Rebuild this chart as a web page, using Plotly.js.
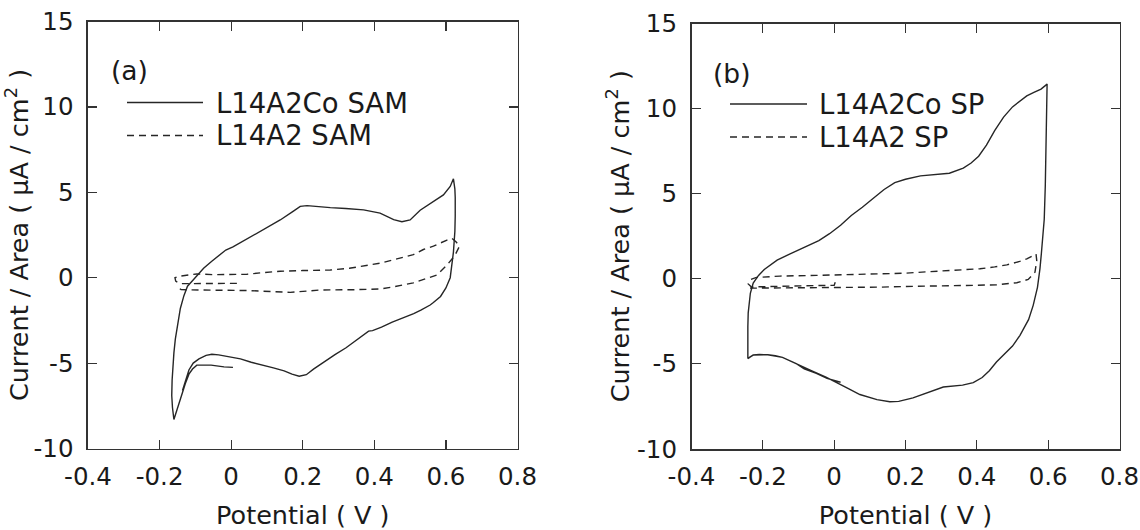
<!DOCTYPE html>
<html>
<head>
<meta charset="utf-8">
<script src="https://cdn.plot.ly/plotly-3.0.1.min.js"></script>
<style>html,body{margin:0;padding:0;background:#fff;}#chart{width:1140px;height:530px;}</style>
</head>
<body>
<div id="chart"></div>
<script>
// ---------- data ----------
const xTickVals = [-0.4, -0.2, 0, 0.2, 0.4, 0.6, 0.8];
const xTickText = ["-0.4", "-0.2", "0", "0.2", "0.4", "0.6", "0.8"];
const yTickVals = [-10, -5, 0, 5, 10, 15];
const yTickText = ["-10", "-5", "0", "5", "10", "15"];

const seriesNames = ["L14A2Co SAM", "L14A2 SAM", "L14A2Co SP", "L14A2 SP"];
const panelLabels = ["(a)", "(b)"];

// (a) L14A2Co SAM
const coSamV = [0.005,-0.02,-0.056,-0.08,-0.096,-0.108,-0.118,-0.128,-0.138,-0.148,-0.155,-0.16,
  -0.164,-0.166,-0.165,-0.163,-0.16,-0.156,-0.15,-0.142,-0.132,-0.122,-0.105,-0.09,-0.077,-0.055,-0.031,-0.015,0.005,
  0.034,0.09,0.137,0.174,0.193,0.212,0.24,0.277,0.32,0.37,0.416,0.454,0.477,0.5,0.528,0.565,0.593,0.612,0.621,
  0.625,0.626,0.626,0.625,0.621,0.617,0.612,0.6,0.585,0.565,0.556,0.53,0.51,0.48,0.45,0.42,0.395,0.384,0.37,0.35,
  0.321,0.29,0.26,0.23,0.21,0.19,0.17,0.148,0.118,0.087,0.056,0.026,-0.005,-0.035,-0.054,-0.07,-0.09,-0.106,-0.118,-0.128,-0.136];
const coSamI = [-5.25,-5.22,-5.12,-5.1,-5.12,-5.35,-5.65,-6.2,-6.9,-7.6,-8.0,-8.3,
  -7.6,-6.9,-6.0,-5.3,-4.4,-3.6,-2.8,-1.8,-1.05,-0.5,-0.1,0.25,0.55,0.95,1.33,1.62,1.8,
  2.15,2.85,3.38,3.9,4.18,4.22,4.15,4.1,4.05,3.97,3.78,3.4,3.28,3.38,3.95,4.45,4.85,5.34,5.79,
  5.2,4.7,3.6,2.7,1.5,0.7,0.0,-0.6,-1.1,-1.45,-1.6,-1.9,-2.1,-2.35,-2.6,-2.9,-3.1,-3.13,-3.35,-3.65,
  -4.1,-4.5,-4.9,-5.35,-5.68,-5.77,-5.65,-5.45,-5.28,-5.12,-4.95,-4.75,-4.62,-4.52,-4.48,-4.55,-4.75,-5.0,-5.4,-6.0,-6.6];

// (a) L14A2 SAM
const samV = [0.016,-0.05,-0.1,-0.142,-0.155,-0.157,-0.14,-0.096,-0.05,0.0,0.044,0.09,0.137,0.2,0.277,0.33,0.37,0.416,0.463,0.509,0.537,0.565,0.603,0.617,0.628,0.638,
  0.625,0.603,0.575,0.54,0.509,0.45,0.416,0.35,0.25,0.165,0.1,0.044,-0.05,-0.12,-0.14,-0.15];
const samI = [-0.33,-0.34,-0.35,-0.35,-0.2,0.0,0.1,0.22,0.18,0.17,0.2,0.3,0.38,0.42,0.45,0.55,0.68,0.85,1.1,1.35,1.65,1.85,2.2,2.3,2.1,1.85,
  1.3,0.74,0.16,-0.1,-0.3,-0.55,-0.66,-0.7,-0.72,-0.86,-0.78,-0.75,-0.73,-0.72,-0.7,-0.55];

// (b) L14A2Co SP
const coSpV = [0.018,-0.02,-0.05,-0.084,-0.105,-0.125,-0.145,-0.165,-0.186,-0.21,-0.227,-0.242,
  -0.243,-0.242,-0.241,-0.239,-0.235,-0.227,-0.212,-0.196,-0.181,-0.16,-0.125,-0.084,-0.043,-0.013,0.018,0.048,0.079,0.109,0.14,0.17,0.2,0.242,0.282,0.323,0.362,0.384,0.405,0.427,0.45,0.475,0.5,0.52,0.54,0.56,0.58,0.597,
  0.596,0.594,0.592,0.589,0.586,0.581,0.577,0.57,0.558,0.545,0.532,0.521,0.5,0.476,0.455,0.435,0.415,0.39,0.36,0.306,0.262,0.221,0.181,0.156,0.12,0.099,0.072,0.04,0.018,-0.023,-0.064,-0.105,-0.145,-0.186,-0.227,-0.242];
const coSpI = [-6.08,-5.85,-5.55,-5.29,-5.0,-4.8,-4.62,-4.52,-4.46,-4.45,-4.48,-4.68,
  -3.8,-2.8,-2.0,-1.5,-0.85,-0.25,0.2,0.55,0.78,1.1,1.45,1.85,2.25,2.65,3.15,3.72,4.2,4.72,5.25,5.65,5.85,6.05,6.13,6.2,6.5,6.8,7.2,7.85,8.7,9.5,10.1,10.45,10.75,10.95,11.15,11.44,
  10.0,8.0,5.5,3.5,2.5,1.5,0.6,-0.5,-1.56,-2.4,-2.9,-3.32,-3.95,-4.45,-4.89,-5.4,-5.8,-6.1,-6.25,-6.36,-6.67,-7.0,-7.2,-7.22,-7.1,-6.95,-6.8,-6.45,-6.2,-5.78,-5.4,-5.0,-4.62,-4.46,-4.48,-4.7];

// (b) L14A2 SP
const spV = [0.003,0.0,-0.05,-0.1,-0.15,-0.2,-0.232,-0.241,-0.236,-0.218,-0.152,-0.05,0.05,0.128,0.2,0.268,0.35,0.409,0.45,0.484,0.52,0.54,0.566,
  0.568,0.563,0.544,0.512,0.456,0.4,0.315,0.2,0.128,0.05,0.007,-0.08,-0.152,-0.236];
const spI = [-0.2,-0.38,-0.4,-0.42,-0.44,-0.46,-0.48,-0.3,-0.06,0.08,0.16,0.2,0.24,0.28,0.33,0.42,0.5,0.59,0.7,0.82,1.02,1.17,1.45,
  1.07,0.39,-0.04,-0.23,-0.35,-0.38,-0.4,-0.45,-0.49,-0.5,-0.49,-0.52,-0.55,-0.55];

// ---------- layout helpers ----------
const W = 1140, H = 530;
const px = x => x / W;
const py = y => 1 - y / H;
const FONT = "DejaVu Sans, Liberation Sans, Arial, sans-serif";
const INK = "#1a1a1a";
const LINE = "#262626";

function axisX(domain, anchor) {
  return {
    domain: domain, anchor: anchor, range: [-0.4, 0.8],
    tickmode: "array", tickvals: xTickVals, ticktext: xTickText,
    ticks: "inside", ticklen: 9, tickwidth: 1.2, tickcolor: "#333",
    mirror: "ticks", showline: true, linecolor: "#333", linewidth: 1.6,
    showgrid: false, zeroline: false, fixedrange: true,
    ticklabelstandoff: 5,
    tickfont: {family: FONT, size: 24.5, color: INK},
    title: {text: "Potential ( V )", font: {family: FONT, size: 25.5, color: INK}, standoff: 16}
  };
}
function axisY(domain, anchor) {
  return {
    domain: domain, anchor: anchor, range: [-10, 15],
    tickmode: "array", tickvals: yTickVals, ticktext: yTickText,
    ticks: "inside", ticklen: 9, tickwidth: 1.2, tickcolor: "#333",
    mirror: "ticks", showline: true, linecolor: "#333", linewidth: 1.6,
    showgrid: false, zeroline: false, fixedrange: true,
    ticklabelstandoff: 8,
    tickfont: {family: FONT, size: 24.5, color: INK},
    title: {text: "Current / Area ( \u03bcA / cm<sup>2</sup> )", font: {family: FONT, size: 25.5, color: INK}, standoff: 0}
  };
}

const solid = {color: LINE, width: 1.4};
const dashed = {color: LINE, width: 1.4, dash: "7px,5px"};

const traces = [
  {x: coSamV, y: coSamI, xaxis: "x", yaxis: "y", mode: "lines", line: solid, name: seriesNames[0], hoverinfo: "skip"},
  {x: samV, y: samI, xaxis: "x", yaxis: "y", mode: "lines", line: dashed, name: seriesNames[1], hoverinfo: "skip"},
  {x: coSpV, y: coSpI, xaxis: "x2", yaxis: "y2", mode: "lines", line: solid, name: seriesNames[2], hoverinfo: "skip"},
  {x: spV, y: spI, xaxis: "x2", yaxis: "y2", mode: "lines", line: dashed, name: seriesNames[3], hoverinfo: "skip"}
];

// legend samples (paper coordinates from pixel positions)
const legendRows = [
  {x0: 127, x1: 203, y: 102.5, tx: 214, ty: 102.5, name: seriesNames[0], dash: "solid"},
  {x0: 127, x1: 203, y: 135.5, tx: 214, ty: 135, name: seriesNames[1], dash: "7px,5px"},
  {x0: 730, x1: 807, y: 104, tx: 817, ty: 103.5, name: seriesNames[2], dash: "solid"},
  {x0: 730, x1: 807, y: 137, tx: 817, ty: 136.5, name: seriesNames[3], dash: "7px,5px"}
];
const shapes = legendRows.map(r => ({
  type: "line", xref: "paper", yref: "paper",
  x0: px(r.x0), x1: px(r.x1), y0: py(r.y), y1: py(r.y),
  line: {color: LINE, width: 1.5, dash: r.dash}
}));
const annotations = legendRows.map(r => ({
  xref: "paper", yref: "paper", x: px(r.tx), y: py(r.ty),
  xanchor: "left", yanchor: "middle", showarrow: false, text: r.name,
  font: {family: FONT, size: 27.5, color: INK}
}));
annotations.push({xref: "paper", yref: "paper", x: px(109), y: py(71), xanchor: "left", yanchor: "middle",
  showarrow: false, text: panelLabels[0], font: {family: FONT, size: 26.5, color: INK}});
annotations.push({xref: "paper", yref: "paper", x: px(711), y: py(73.5), xanchor: "left", yanchor: "middle",
  showarrow: false, text: panelLabels[1], font: {family: FONT, size: 26.5, color: INK}});

const layout = {
  width: W, height: H,
  margin: {l: 0, r: 0, t: 0, b: 0, pad: 0},
  paper_bgcolor: "#fff", plot_bgcolor: "#fff",
  showlegend: false,
  xaxis: axisX([px(88), px(517.5)], "y"),
  yaxis: axisY([py(448.5), py(21.5)], "x"),
  xaxis2: axisX([px(691.5), px(1119.5)], "y2"),
  yaxis2: axisY([py(449), py(23.5)], "x2"),
  shapes: shapes,
  annotations: annotations
};

Plotly.newPlot("chart", traces, layout, {displayModeBar: false, staticPlot: true});
</script>
</body>
</html>
